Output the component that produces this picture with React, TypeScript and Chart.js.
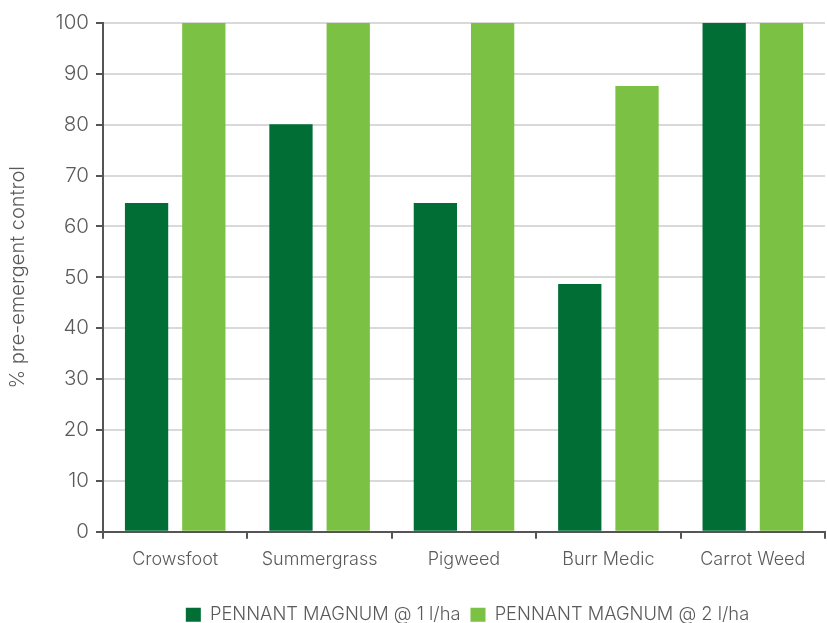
import React, { useEffect, useRef } from "react";
import { Chart, registerables } from "chart.js";

Chart.register(...registerables);

const categories = ["Crowsfoot", "Summergrass", "Pigweed", "Burr Medic", "Carrot Weed"];
const series1Label = "PENNANT MAGNUM @ 1 l/ha";
const series2Label = "PENNANT MAGNUM @ 2 l/ha";
const series1Values = [64.6, 80.1, 64.6, 48.7, 100];
const series2Values = [100, 100, 100, 87.6, 100];
const yTitle = "% pre-emergent control";

const DARK = "#016f35";
const LIGHT = "#7bc143";
const TEXT = "#5a5a5a";
const AXIS = "#555555";
const GRID = "#d9d9d9";
const FONT = "Inter";

export default function App() {
  const ref = useRef<HTMLCanvasElement | null>(null);
  useEffect(() => {
    document.body.style.margin = "0";
    document.body.style.overflow = "hidden";
    const shiftPlugin = {
      id: "shiftLegend",
      afterLayout(chart: any) {
        const lg = chart.legend;
        if (lg) {
          lg.left += 55;
          lg.right += 55;
          lg.top += 11;
          lg.bottom += 11;
        }
      },
    };
    const chart = new Chart(ref.current as HTMLCanvasElement, {
      type: "bar",
      data: {
        labels: categories,
        datasets: [
          { label: series1Label, data: series1Values, backgroundColor: DARK, borderWidth: 0 },
          { label: series2Label, data: series2Values, backgroundColor: LIGHT, borderWidth: 0 },
        ],
      },
      plugins: [shiftPlugin],
      options: {
        animation: false,
        responsive: true,
        maintainAspectRatio: false,
        layout: { padding: { top: 23, right: 2, left: 0, bottom: 0 } },
        datasets: { bar: { categoryPercentage: 0.793, barPercentage: 0.756 } },
        plugins: {
          tooltip: { enabled: false },
          legend: {
            position: "bottom",
            labels: {
              boxWidth: 15,
              boxHeight: 14,
              padding: 10,
              color: TEXT,
              font: { family: FONT, size: 18.3, weight: "300" as any },
            },
          },
        },
        scales: {
          x: {
            grid: {
              display: true,
              drawOnChartArea: false,
              offset: true,
              tickLength: 7,
              tickColor: AXIS,
              lineWidth: 2,
            },
            border: { color: AXIS, width: 2 },
            ticks: { color: TEXT, padding: 10, font: { family: FONT, size: 18, weight: "300" as any } },
            afterFit(scale: any) {
              scale.height = 53;
            },
          },
          y: {
            min: 0,
            max: 100,
            ticks: { stepSize: 10, color: TEXT, padding: 7, font: { family: FONT, size: 20.5, weight: "300" as any } },
            grid: { color: GRID, lineWidth: 2, tickColor: AXIS, tickLength: 7 },
            border: { color: AXIS, width: 2 },
            title: {
              display: true,
              text: yTitle,
              color: TEXT,
              padding: { top: 6, bottom: 0 },
              font: { family: FONT, size: 20, weight: "300" as any },
            },
            afterFit(scale: any) {
              scale.width = 103;
            },
          },
        },
      },
    });
    return () => chart.destroy();
  }, []);
  return (
    <div style={{ position: "fixed", left: 0, top: 0, width: 827, height: 623 }}>
      <canvas ref={ref} />
    </div>
  );
}
